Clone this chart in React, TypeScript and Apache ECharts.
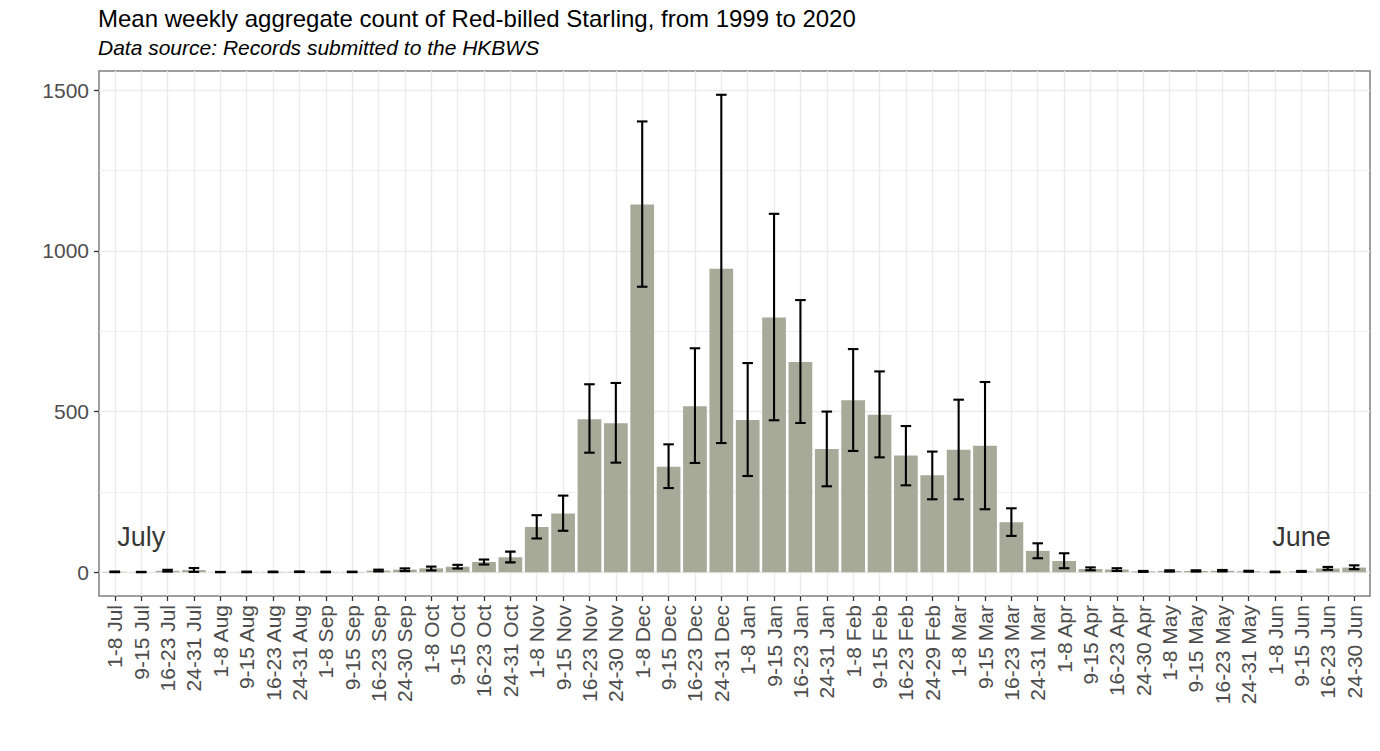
import React, { useEffect, useRef } from "react";
import * as echarts from "echarts";

const FONT = '"Liberation Sans", Arial, Helvetica, sans-serif';

const categories = [
  "1-8 Jul", "9-15 Jul", "16-23 Jul", "24-31 Jul",
  "1-8 Aug", "9-15 Aug", "16-23 Aug", "24-31 Aug",
  "1-8 Sep", "9-15 Sep", "16-23 Sep", "24-30 Sep",
  "1-8 Oct", "9-15 Oct", "16-23 Oct", "24-31 Oct",
  "1-8 Nov", "9-15 Nov", "16-23 Nov", "24-30 Nov",
  "1-8 Dec", "9-15 Dec", "16-23 Dec", "24-31 Dec",
  "1-8 Jan", "9-15 Jan", "16-23 Jan", "24-31 Jan",
  "1-8 Feb", "9-15 Feb", "16-23 Feb", "24-29 Feb",
  "1-8 Mar", "9-15 Mar", "16-23 Mar", "24-31 Mar",
  "1-8 Apr", "9-15 Apr", "16-23 Apr", "24-30 Apr",
  "1-8 May", "9-15 May", "16-23 May", "24-31 May",
  "1-8 Jun", "9-15 Jun", "16-23 Jun", "24-30 Jun",
];

const means = [
  1.2, 0.3, 4.5, 6.5,
  0.3, 1, 1, 1.5,
  1, 1, 5, 8,
  12, 17, 32, 46.5,
  141, 182.5, 476, 463.5,
  1144.5, 328.5, 516.5, 944.5,
  473.5, 793, 654, 383.5,
  535, 490.5, 363, 301.5,
  381.5, 394, 155.5, 66.5,
  35, 10, 8.5, 2.5,
  4, 4, 4.5, 3,
  1, 2.5, 11.5, 14.5,
];

const lower = [
  0.2, 0, 2, 1,
  0, 0, 0, 0.5,
  0, 0.2, 2.5, 3.5,
  5.5, 11.5, 24, 30.5,
  105, 129, 372, 341,
  888.5, 262, 340, 402,
  299.5, 473, 464.5, 267.5,
  377.5, 357.5, 270.5, 227,
  227, 196, 113, 43.5,
  12.5, 6, 4, 1,
  2, 2, 2.5, 1.5,
  0, 1, 7.5, 9.5,
];

const upper = [
  2.2, 1.2, 7.5, 13,
  1, 2, 2, 2.5,
  1.8, 1.8, 8, 12,
  17.5, 23, 39.5, 64,
  177.5, 238.5, 585, 589,
  1403, 398, 697, 1486,
  651, 1115.5, 847, 500,
  694.5, 625, 455, 375.5,
  537, 592, 199, 90,
  59, 15, 12.5, 4,
  6, 6, 7, 4.5,
  2, 4, 16.5, 21.5,
];

const yTicks = [0, 500, 1000, 1500];
const yMinorTicks = [250, 750, 1250];
const monthNotes = [
  { name: "July", x: 1, y: 100 },
  { name: "June", x: 45, y: 100 },
];

export default function App() {
  const ref = useRef<HTMLDivElement>(null);

  useEffect(() => {
    if (!ref.current) return;
    const chart = echarts.init(ref.current, null, { renderer: "svg" });
    const xIdx = categories.map((_, i) => i);
    const majorGrid = { color: "#ebebeb", width: 1.4, type: "solid" as const };
    const minorGrid = { color: "#ebebeb", width: 0.8, type: "solid" as const };

    const option: any = {
      animation: false,
      backgroundColor: "#ffffff",
      textStyle: { fontFamily: FONT },
      title: [
        {
          text: "Mean weekly aggregate count of Red-billed Starling, from 1999 to 2020",
          left: 98,
          top: 6,
          padding: 0,
          textStyle: { fontFamily: FONT, fontSize: 24, fontWeight: "normal", color: "#000000" },
        },
        {
          text: "Data source: Records submitted to the HKBWS",
          left: 98,
          top: 37,
          padding: 0,
          textStyle: { fontFamily: FONT, fontSize: 21, fontStyle: "italic", fontWeight: "normal", color: "#000000" },
        },
      ],
      grid: {
        left: 99,
        right: 10,
        top: 71,
        bottom: 155,
        show: true,
        borderColor: "#7f7f7f",
        borderWidth: 1.5,
        backgroundColor: "transparent",
        containLabel: false,
        outerBoundsMode: "none",
      },
      xAxis: {
        type: "value",
        min: -0.6,
        max: categories.length - 1 + 0.6,
        axisLine: { show: false, onZero: false },
        axisTick: {
          show: true,
          length: 5,
          customValues: xIdx,
          lineStyle: { color: "#333333", width: 1.3 },
        },
        axisLabel: {
          customValues: xIdx,
          rotate: 90,
          margin: 9,
          fontSize: 21,
          fontFamily: FONT,
          color: "#4d4d4d",
          formatter: (v: number) => categories[Math.round(v)] ?? "",
        },
        splitLine: { show: false },
        minorTick: { show: false },
        minorSplitLine: { show: false },
      },
      yAxis: {
        type: "value",
        min: -74,
        max: 1560,
        axisLine: { show: false, onZero: false },
        axisTick: {
          show: true,
          length: 5,
          customValues: yTicks,
          lineStyle: { color: "#333333", width: 1.3 },
        },
        axisLabel: {
          customValues: yTicks,
          margin: 10,
          fontSize: 21,
          fontFamily: FONT,
          color: "#4d4d4d",
          formatter: (v: number) => String(v),
        },
        splitLine: { show: false },
        minorTick: { show: false },
        minorSplitLine: { show: false },
      },
      series: [
        {
          type: "line",
          name: "grid",
          data: xIdx.map((i) => [i, means[i]]),
          showSymbol: false,
          symbol: "none",
          lineStyle: { opacity: 0 },
          silent: true,
          z: 0,
          markLine: {
            silent: true,
            symbol: "none",
            z: 0,
            label: { show: false },
            animation: false,
            data: [
              ...yMinorTicks.map((v) => ({ yAxis: v, lineStyle: minorGrid })),
              ...yTicks.map((v) => ({ yAxis: v, lineStyle: majorGrid })),
              ...xIdx.map((i) => ({ xAxis: i, lineStyle: majorGrid })),
            ],
          },
        },
        {
          type: "bar",
          name: "mean",
          data: xIdx.map((i) => [i, means[i]]),
          barWidth: "90%",
          itemStyle: { color: "#a7a999" },
          silent: true,
          z: 10,
        },
        {
          type: "custom",
          name: "error",
          data: xIdx.map((i) => [i, lower[i], upper[i]]),
          encode: { x: 0, y: [1, 2] },
          silent: true,
          z: 11,
          renderItem: (params: any, api: any) => {
            const x = api.value(0);
            const lo = api.value(1);
            const hi = api.value(2);
            const top = api.coord([x, hi]);
            const bot = api.coord([x, lo]);
            const half = api.size([0.4, 0])[0] / 2;
            const lw = 2.1;
            const style = { fill: "#000000", stroke: null };
            return {
              type: "group",
              children: [
                {
                  type: "rect",
                  shape: { x: top[0] - lw / 2, y: top[1], width: lw, height: Math.max(bot[1] - top[1], 0) },
                  style,
                },
                {
                  type: "rect",
                  shape: { x: top[0] - half, y: top[1] - lw / 2, width: half * 2, height: lw },
                  style,
                },
                {
                  type: "rect",
                  shape: { x: bot[0] - half, y: bot[1] - lw / 2, width: half * 2, height: lw },
                  style,
                },
              ],
            };
          },
        },
        {
          type: "scatter",
          name: "notes",
          data: monthNotes.map((m) => ({ value: [m.x, m.y], name: m.name })),
          symbolSize: 0,
          silent: true,
          z: 12,
          label: {
            show: true,
            position: "inside",
            formatter: "{b}",
            fontSize: 27,
            fontFamily: FONT,
            color: "#000000",
            offset: [0, -3],
          },
        },
      ],
    };

    chart.setOption(option);
    return () => {
      chart.dispose();
    };
  }, []);

  return (
    <div
      ref={ref}
      style={{ position: "fixed", left: 0, top: 0, width: 1380, height: 751, background: "#fff" }}
    />
  );
}
